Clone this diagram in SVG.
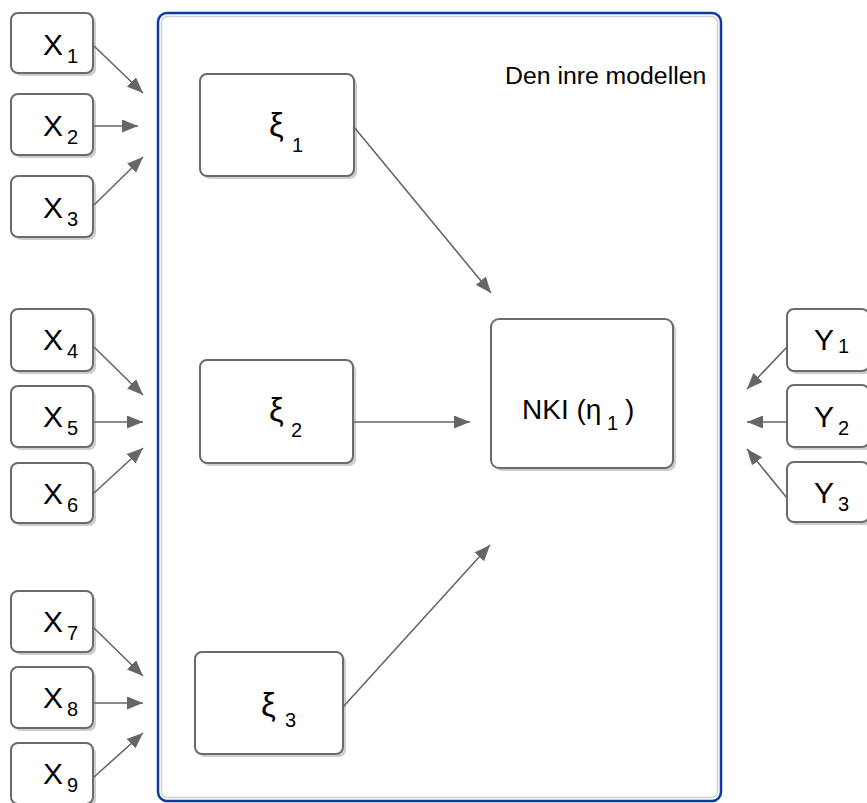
<svg xmlns="http://www.w3.org/2000/svg" width="867" height="803" viewBox="0 0 867 803">
<defs>
<marker id="ah" viewBox="0 0 16 13" refX="16" refY="6.5" markerWidth="16" markerHeight="13" markerUnits="userSpaceOnUse" orient="auto">
<path d="M0,0 L16,6.5 L0,13 Z" fill="#666666"/>
</marker>
</defs>
<style>
.box{fill:#ffffff;stroke:#6b6b6b;stroke-width:2}
.sh{fill:#cdcdcd}
.t{font-family:"Liberation Sans",Arial,sans-serif;font-size:30px;fill:#000}
.g{font-family:"Liberation Sans",Arial,sans-serif;font-size:33px;fill:#000}
.n{font-family:"Liberation Sans",Arial,sans-serif;font-size:28px;fill:#000}
.s{font-family:"Liberation Sans",Arial,sans-serif;font-size:20px;fill:#000}
.c{stroke:#666666;stroke-width:1.6;fill:none;marker-end:url(#ah)}
</style>
<rect width="867" height="803" fill="#ffffff"/>
<g id="container">
<rect x="158" y="13" width="563" height="788" rx="9" fill="#ffffff" stroke="#0a3aa0" stroke-width="2.5"/>
<rect x="161.5" y="16.5" width="556" height="781" rx="6" fill="none" stroke="#d0d0d0" stroke-width="1.5"/>
<text x="505" y="84" font-family="Liberation Sans, Arial, sans-serif" font-size="24.8" fill="#000">Den inre modellen</text>
</g>
<g id="X1"><rect class="sh" x="14" y="16" width="82" height="60" rx="7"/><rect class="box" x="11" y="13" width="82" height="60" rx="7"/><text class="t" x="43" y="55">X</text><text class="s" x="67" y="63">1</text></g>
<g id="X2"><rect class="sh" x="14" y="97" width="82" height="61" rx="7"/><rect class="box" x="11" y="94" width="82" height="61" rx="7"/><text class="t" x="43" y="136">X</text><text class="s" x="67" y="144">2</text></g>
<g id="X3"><rect class="sh" x="14" y="179" width="82" height="61" rx="7"/><rect class="box" x="11" y="176" width="82" height="61" rx="7"/><text class="t" x="43" y="218">X</text><text class="s" x="67" y="226">3</text></g>
<g id="X4"><rect class="sh" x="14" y="312" width="82" height="62" rx="7"/><rect class="box" x="11" y="309" width="82" height="62" rx="7"/><text class="t" x="43" y="350">X</text><text class="s" x="67" y="358">4</text></g>
<g id="X5"><rect class="sh" x="14" y="389" width="82" height="61" rx="7"/><rect class="box" x="11" y="386" width="82" height="61" rx="7"/><text class="t" x="43" y="427">X</text><text class="s" x="67" y="435">5</text></g>
<g id="X6"><rect class="sh" x="14" y="466" width="82" height="60" rx="7"/><rect class="box" x="11" y="463" width="82" height="60" rx="7"/><text class="t" x="43" y="504">X</text><text class="s" x="67" y="512">6</text></g>
<g id="X7"><rect class="sh" x="14" y="594" width="82" height="61" rx="7"/><rect class="box" x="11" y="591" width="82" height="61" rx="7"/><text class="t" x="43" y="632">X</text><text class="s" x="67" y="640">7</text></g>
<g id="X8"><rect class="sh" x="14" y="670" width="82" height="61" rx="7"/><rect class="box" x="11" y="667" width="82" height="61" rx="7"/><text class="t" x="43" y="708">X</text><text class="s" x="67" y="716">8</text></g>
<g id="X9"><rect class="sh" x="14" y="746" width="82" height="61" rx="7"/><rect class="box" x="11" y="743" width="82" height="61" rx="7"/><text class="t" x="43" y="784">X</text><text class="s" x="67" y="792">9</text></g>
<g id="xi1"><rect class="sh" x="203" y="77" width="154" height="102" rx="7"/><rect class="box" x="200" y="74" width="154" height="102" rx="7"/><text class="g" x="269" y="136">ξ</text><text class="s" x="292" y="152">1</text></g>
<g id="xi2"><rect class="sh" x="203" y="363" width="153" height="103" rx="7"/><rect class="box" x="200" y="360" width="153" height="103" rx="7"/><text class="g" x="269" y="421">ξ</text><text class="s" x="291" y="437">2</text></g>
<g id="xi3"><rect class="sh" x="198" y="655" width="148" height="102" rx="7"/><rect class="box" x="195" y="652" width="148" height="102" rx="7"/><text class="g" x="261" y="716">ξ</text><text class="s" x="285" y="727">3</text></g>
<g id="NKI"><rect class="sh" x="494" y="322" width="182" height="149" rx="8"/><rect class="box" x="491" y="319" width="182" height="149" rx="8"/><text class="n" x="522" y="419">NKI (η</text><text class="s" x="607" y="430">1</text><text class="n" x="625" y="419">)</text></g>
<g id="Y1"><rect class="sh" x="790" y="312" width="82" height="62" rx="7"/><rect class="box" x="787" y="309" width="82" height="62" rx="7"/><text class="t" x="814" y="350">Y</text><text class="s" x="838" y="353">1</text></g>
<g id="Y2"><rect class="sh" x="790" y="388" width="82" height="62" rx="7"/><rect class="box" x="787" y="385" width="82" height="62" rx="7"/><text class="t" x="814" y="427">Y</text><text class="s" x="838" y="435">2</text></g>
<g id="Y3"><rect class="sh" x="790" y="465" width="82" height="60" rx="7"/><rect class="box" x="787" y="462" width="82" height="60" rx="7"/><text class="t" x="814" y="503">Y</text><text class="s" x="838" y="511">3</text></g>
<g id="connectors">
<line class="c" x1="94" y1="46" x2="143" y2="93"/>
<line class="c" x1="94" y1="126" x2="138" y2="126"/>
<line class="c" x1="94" y1="205" x2="143" y2="157"/>
<line class="c" x1="94" y1="347" x2="143" y2="395"/>
<line class="c" x1="94" y1="422" x2="143" y2="422"/>
<line class="c" x1="94" y1="493" x2="143" y2="448"/>
<line class="c" x1="94" y1="628" x2="143" y2="676"/>
<line class="c" x1="94" y1="703" x2="143" y2="703"/>
<line class="c" x1="94" y1="777" x2="143" y2="733"/>
<line class="c" x1="354" y1="127" x2="491" y2="293"/>
<line class="c" x1="353" y1="422" x2="470" y2="422"/>
<line class="c" x1="343" y1="707" x2="490" y2="545"/>
<line class="c" x1="787" y1="347" x2="747" y2="389"/>
<line class="c" x1="787" y1="422" x2="747" y2="422"/>
<line class="c" x1="787" y1="498" x2="747" y2="449"/>
</g>
</svg>
